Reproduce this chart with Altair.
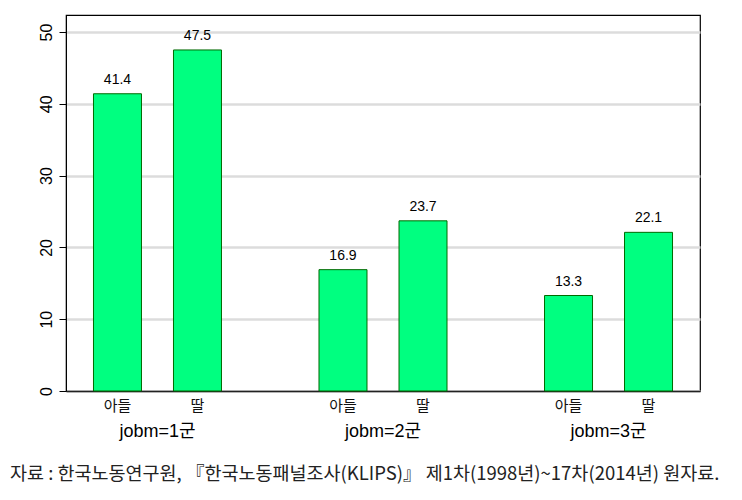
import altair as alt
import pandas as pd

groups = ["jobm=1군", "jobm=1군", "jobm=2군", "jobm=2군", "jobm=3군", "jobm=3군"]
children = ["아들", "딸", "아들", "딸", "아들", "딸"]
values = [41.4, 47.5, 16.9, 23.7, 13.3, 22.1]
group_order = ["jobm=1군", "jobm=2군", "jobm=3군"]
child_order = ["아들", "딸"]
y_ticks = [0, 10, 20, 30, 40, 50]
footer = "자료 : 한국노동연구원, 『한국노동패널조사(KLIPS)』 제1차(1998년)~17차(2014년) 원자료."

df = pd.DataFrame({"group": groups, "child": children, "value": values})

SANS = "Liberation Sans, 'Noto Sans CJK KR'"
KR = "'Noto Sans CJK KR'"

x_enc = alt.X("group:N", sort=group_order,
              scale=alt.Scale(paddingInner=0.4324, paddingOuter=0.1218),
              axis=alt.Axis(title=None, ticks=False, labelAngle=0, labelFontSize=18,
                            labelFont=SANS, labelColor="#000000", labelPadding=31,
                            domainColor="#222222", domainWidth=1.5))
xo_enc = alt.XOffset("child:N", sort=child_order,
                     scale=alt.Scale(paddingInner=0.4, paddingOuter=0))
y_enc = alt.Y("value:Q", scale=alt.Scale(domain=[0, 52.37], nice=False, zero=True),
              axis=alt.Axis(title=None, values=y_ticks, labelAngle=270, tickSize=7,
                            tickColor="black", domainColor="black", grid=True,
                            gridColor="#dcdcdc", gridWidth=2.5, labelFontSize=16,
                            labelFont="Liberation Sans", labelColor="#000000",
                            labelPadding=5))

base = alt.Chart(df).encode(x=x_enc, xOffset=xo_enc)

bars = base.mark_bar(color="#00ff80", stroke="#006a00", strokeWidth=1).encode(y=y_enc)

vals = base.mark_text(baseline="bottom", dy=-7, fontSize=14, font="Liberation Sans",
                      color="#000000").encode(y="value:Q", text=alt.Text("value:Q", format=".1f"))

cats = base.mark_text(baseline="top", dy=8, fontSize=15, font=KR,
                      color="#111111").encode(y=alt.datum(0), text="child:N")

foot = alt.Chart(pd.DataFrame({"t": [footer]})).mark_text(
    align="left", baseline="middle", fontSize=18.5, font=KR, color="#222222"
).encode(x=alt.value(-56), y=alt.value(459), text="t:N")

chart = alt.layer(bars, vals, cats, foot).properties(
    width=634, height=376,
    autosize=alt.AutoSizeParams(type="none"),
    padding={"left": 58, "top": 7, "right": 34, "bottom": 95},
).configure_view(stroke="black", strokeWidth=1.2)

chart.save("out.html", embed_options={"renderer": "svg", "actions": False})
